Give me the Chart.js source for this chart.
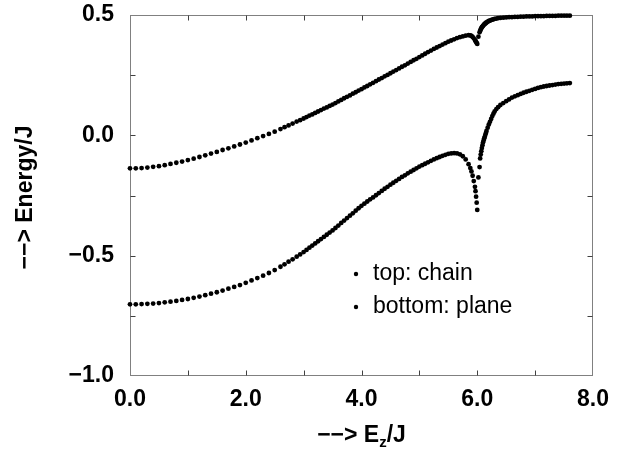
<!DOCTYPE html>
<html>
<head>
<meta charset="utf-8">
<script src="https://cdn.jsdelivr.net/npm/chart.js@4.4.1/dist/chart.umd.min.js"></script>
<style>
  html, body { margin: 0; padding: 0; background: #fff; }
  #wrap { width: 623px; height: 453px; }
</style>
</head>
<body>
<div id="wrap"><canvas id="c" width="623" height="453"></canvas></div>
<script>
// ---- Data ----
const ezValues = [
  0.0,0.1,0.2,0.3,0.4,0.5,0.6,0.7,0.8,0.9,1.0,1.1,1.2,1.3,1.4,1.5,1.6,1.7,1.8,1.9,
  2.0,2.1,2.2,2.3,2.4,2.5,2.6,2.67,2.74,2.81,2.88,2.94,3.0,
  3.05,3.10,3.15,3.20,3.25,3.30,3.35,3.40,3.45,3.50,
  3.55,3.60,3.65,3.70,3.75,3.80,3.85,3.90,3.95,4.00,
  4.05,4.10,4.15,4.20,4.25,4.30,4.35,4.40,4.45,4.50,
  4.55,4.60,4.65,4.70,4.75,4.80,4.85,4.90,4.95,5.00,
  5.05,5.10,5.15,5.20,5.25,5.30,5.35,5.40,5.45,5.50,
  5.55,5.60,5.65,5.70,5.75,5.80,5.85,
  5.88,5.90,5.92,5.94,5.96,5.97,5.98,5.99,6.00,
  6.02,6.04,6.05,6.06,6.07,6.08,6.09,6.10,6.11,6.12,6.13,6.14,6.15,6.16,
  6.18,6.20,6.22,6.24,6.26,6.28,6.30,6.33,6.36,6.40,
  6.45,6.50,6.55,6.60,6.65,6.70,6.75,6.80,6.85,6.90,6.95,7.00,
  7.05,7.10,7.15,7.20,7.25,7.30,7.35,7.40,7.45,7.50,7.55,7.60
];

const topChain = [
  -0.137,-0.137,-0.136,-0.134,-0.131,-0.128,-0.124,-0.119,-0.114,-0.109,
  -0.103,-0.097,-0.090,-0.083,-0.076,-0.069,-0.061,-0.054,-0.046,-0.038,
  -0.030,-0.021,-0.012,-0.003,0.006,0.015,0.026,0.034,0.041,0.049,0.057,0.063,0.070,
  0.076,0.082,0.087,0.093,0.099,0.105,0.111,0.116,0.122,0.128,
  0.134,0.141,0.147,0.154,0.160,0.166,0.173,0.179,0.186,0.192,
  0.199,0.205,0.212,0.218,0.225,0.232,0.238,0.245,0.251,0.258,
  0.265,0.271,0.278,0.285,0.291,0.298,0.305,0.312,0.318,0.325,
  0.332,0.339,0.346,0.352,0.359,0.365,0.371,0.377,0.383,0.389,
  0.394,0.399,0.404,0.408,0.411,0.414,0.416,
  0.415,0.413,0.409,0.403,0.396,0.392,0.388,0.384,0.380,
  0.410,0.428,0.434,0.440,0.445,0.449,0.452,0.455,0.458,0.461,0.463,0.465,0.467,0.469,
  0.472,0.475,0.477,0.479,0.481,0.482,0.484,0.485,0.487,0.488,
  0.489,0.490,0.491,0.491,0.492,0.492,0.493,0.493,0.494,0.494,0.494,0.495,
  0.495,0.495,0.495,0.496,0.496,0.496,0.496,0.497,0.497,0.497,0.497,0.497
];

const bottomPlane = [
  -0.702,-0.702,-0.701,-0.700,-0.699,-0.697,-0.694,-0.691,-0.688,-0.684,
  -0.680,-0.675,-0.670,-0.664,-0.658,-0.652,-0.645,-0.637,-0.630,-0.622,
  -0.613,-0.603,-0.593,-0.583,-0.572,-0.560,-0.546,-0.536,-0.525,-0.515,-0.504,-0.495,-0.485,
  -0.476,-0.467,-0.458,-0.449,-0.440,-0.431,-0.422,-0.413,-0.404,-0.395,
  -0.385,-0.375,-0.364,-0.354,-0.344,-0.334,-0.324,-0.313,-0.303,-0.293,
  -0.284,-0.275,-0.266,-0.258,-0.249,-0.240,-0.231,-0.222,-0.214,-0.205,
  -0.197,-0.189,-0.181,-0.173,-0.166,-0.158,-0.151,-0.144,-0.137,-0.130,
  -0.124,-0.118,-0.112,-0.106,-0.100,-0.095,-0.090,-0.085,-0.081,-0.077,
  -0.075,-0.074,-0.075,-0.079,-0.087,-0.100,-0.120,
  -0.136,-0.150,-0.168,-0.190,-0.214,-0.232,-0.255,-0.280,-0.310,
  -0.175,-0.132,-0.096,-0.080,-0.066,-0.053,-0.041,-0.030,-0.021,-0.013,-0.006,0.002,0.010,0.018,
  0.032,0.045,0.056,0.068,0.080,0.090,0.099,0.109,0.117,0.126,
  0.134,0.142,0.149,0.157,0.162,0.167,0.172,0.177,0.181,0.185,0.189,0.193,
  0.197,0.200,0.203,0.205,0.207,0.209,0.211,0.213,0.214,0.215,0.216,0.217
];

const seriesLabels = ['top: chain', 'bottom: plane'];
const xTickValues = [0, 2, 4, 6, 8];
const xTickLabels = ['0.0', '2.0', '4.0', '6.0', '8.0'];
const yTickValues = [-1.0, -0.5, 0.0, 0.5];
const yTickLabels = ['\u22121.0', '\u22120.5', '0.0', '0.5'];
const xTitle = ['\u2212\u2212> E', 'z', '/J'];
const yTitle = '\u2212\u2212> Energy/J';

// ---- Chart ----
const tickFont = { family: '"Liberation Sans", Arial, sans-serif', size: 23, weight: 'bold' };

const framePlugin = {
  id: 'frame',
  beforeDatasetsDraw(chart) {
    const { ctx, chartArea: a, scales } = chart;
    ctx.save();
    ctx.strokeStyle = '#808080';
    ctx.lineWidth = 1;
    const L = Math.round(a.left) + 0.5, R = Math.round(a.right) - 0.5;
    const T = Math.round(a.top) + 0.5, B = Math.round(a.bottom) - 0.5;
    ctx.strokeRect(L, T, R - L, B - T);
    ctx.strokeStyle = '#404040';
    ctx.beginPath();
    const tl = 5;
    scales.x.ticks.forEach(t => {
      const px = Math.round(scales.x.getPixelForValue(t.value)) + 0.5;
      if (px <= L + 1 || px >= R - 1) return;
      ctx.moveTo(px, B); ctx.lineTo(px, B - tl);
      ctx.moveTo(px, T); ctx.lineTo(px, T + tl);
    });
    scales.y.ticks.forEach(t => {
      const py = Math.round(scales.y.getPixelForValue(t.value)) + 0.5;
      if (py <= T + 1 || py >= B - 1) return;
      ctx.moveTo(L, py); ctx.lineTo(L + tl, py);
      ctx.moveTo(R, py); ctx.lineTo(R - tl, py);
    });
    ctx.stroke();
    ctx.restore();
  },
  afterDraw(chart) {
    const { ctx, chartArea: a } = chart;
    ctx.save();
    ctx.fillStyle = '#000';
    // y title
    ctx.font = 'bold 23px "Liberation Sans", Arial, sans-serif';
    ctx.translate(26, (a.top + a.bottom) / 2 + 2);
    ctx.rotate(-Math.PI / 2);
    ctx.textAlign = 'center';
    ctx.textBaseline = 'middle';
    ctx.fillText(yTitle, 0, 0);
    ctx.restore();

    // x title with subscript
    ctx.save();
    ctx.fillStyle = '#000';
    ctx.textBaseline = 'alphabetic';
    const big = 'bold 23px "Liberation Sans", Arial, sans-serif';
    const small = 'bold 15px "Liberation Sans", Arial, sans-serif';
    ctx.font = big; const w1 = ctx.measureText(xTitle[0]).width;
    const w3 = ctx.measureText(xTitle[2]).width;
    ctx.font = small; const w2 = ctx.measureText(xTitle[1]).width;
    const total = w1 + w2 + w3;
    let x0 = (a.left + a.right) / 2 - total / 2;
    const base = 442;
    ctx.font = big; ctx.textAlign = 'left';
    ctx.fillText(xTitle[0], x0, base);
    ctx.font = small;
    ctx.fillText(xTitle[1], x0 + w1, base + 5);
    ctx.font = big;
    ctx.fillText(xTitle[2], x0 + w1 + w2, base);
    ctx.restore();

    // legend inside plot
    ctx.save();
    ctx.fillStyle = '#000';
    ctx.font = '23px "Liberation Sans", Arial, sans-serif';
    ctx.textBaseline = 'middle';
    ctx.textAlign = 'left';
    const lx = 356, ly = [274, 307];
    chart.data.datasets.forEach((ds, i) => {
      ctx.beginPath();
      ctx.arc(lx, ly[i], 2.2, 0, Math.PI * 2);
      ctx.fill();
      ctx.fillText(ds.label, lx + 17, ly[i]);
    });
    ctx.restore();
  }
};

new Chart(document.getElementById('c'), {
  type: 'scatter',
  data: {
    datasets: [
      {
        label: seriesLabels[0],
        data: ezValues.map((x, i) => ({ x: x, y: topChain[i] })),
        pointRadius: 2.4, pointBorderWidth: 0, backgroundColor: '#000', borderColor: '#000',
        showLine: false, clip: false
      },
      {
        label: seriesLabels[1],
        data: ezValues.map((x, i) => ({ x: x, y: bottomPlane[i] })),
        pointRadius: 2.4, pointBorderWidth: 0, backgroundColor: '#000', borderColor: '#000',
        showLine: false, clip: false
      }
    ]
  },
  options: {
    responsive: false,
    animation: false,
    events: [],
    layout: { padding: { left: 0, right: 30, top: 15, bottom: 0 } },
    plugins: { legend: { display: false }, tooltip: { enabled: false } },
    scales: {
      x: {
        type: 'linear', min: 0, max: 8,
        afterFit(s) { s.height = 77; s.paddingLeft = 0; s.paddingRight = 0; },
        border: { display: false },
        grid: { display: false, drawTicks: false },
        ticks: {
          stepSize: 1, autoSkip: false, maxRotation: 0, padding: 10,
          color: '#000', font: tickFont,
          callback: v => { const k = xTickValues.indexOf(v); return k >= 0 ? xTickLabels[k] : ''; }
        }
      },
      y: {
        type: 'linear', min: -1, max: 0.5,
        afterFit(s) { s.width = 130; s.paddingTop = 0; s.paddingBottom = 0; },
        border: { display: false },
        grid: { display: false, drawTicks: false },
        ticks: {
          stepSize: 0.25, autoSkip: false, padding: 16,
          color: '#000', font: tickFont,
          callback: v => { const k = yTickValues.findIndex(t => Math.abs(t - v) < 1e-9); return k >= 0 ? yTickLabels[k] : ''; }
        }
      }
    }
  },
  plugins: [framePlugin]
});
</script>
</body>
</html>
